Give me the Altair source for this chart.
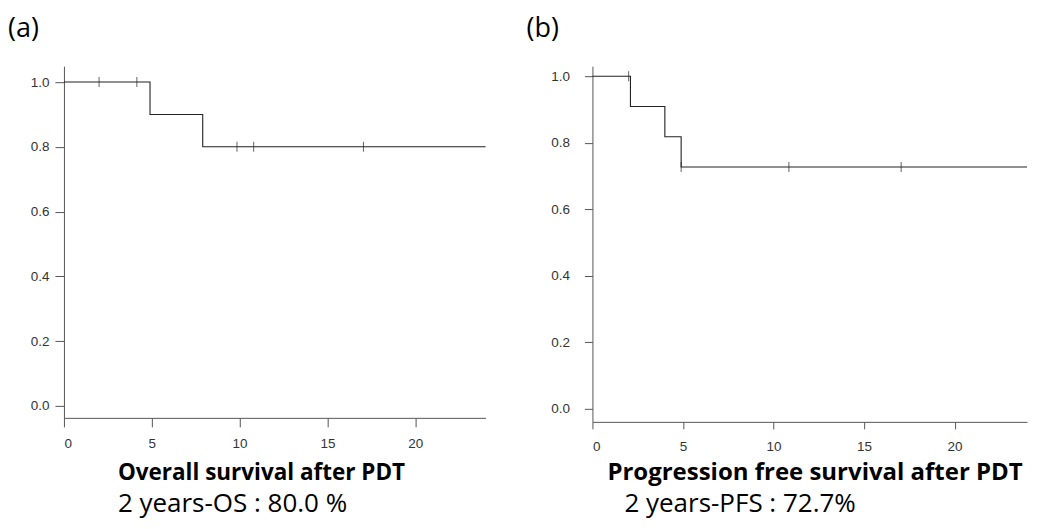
import altair as alt
import pandas as pd

# Kaplan-Meier curve (a): overall survival
os_time = [0, 4.9, 7.9, 24]
os_surv = [1.0, 0.9, 0.8, 0.8]
os_cens_time = [2.0, 4.15, 9.85, 10.8, 17.05]
os_cens_surv = [1.0, 1.0, 0.8, 0.8, 0.8]

# Kaplan-Meier curve (b): progression free survival
pfs_time = [0, 2.1, 4.0, 4.9, 24]
pfs_surv = [1.0, 0.909, 0.818, 0.727, 0.727]
pfs_cens_time = [2.0, 4.9, 10.85, 17.05]
pfs_cens_surv = [1.0, 0.727, 0.727, 0.727]

x_ticks = [0, 5, 10, 15, 20]
y_ticks = [0.0, 0.2, 0.4, 0.6, 0.8, 1.0]

panel_labels = ["(a)", "(b)"]
titles = ["Overall survival after PDT", "Progression free survival after PDT"]
subtitles = ["2 years-OS : 80.0 %", "2 years-PFS : 72.7%"]

LINE = "#222222"
TXT_FONT = "Open Sans"


def text_layer(txt, x, y, size, weight="normal"):
    return alt.Chart(pd.DataFrame({"txt": [txt]})).mark_text(
        align="left", baseline="alphabetic", font=TXT_FONT, fontSize=size,
        fontWeight=weight, color="#000000"
    ).encode(text="txt:N", x=alt.value(x), y=alt.value(y))


def panel(time, surv, ct, cs, idx, w, h, ydom, ytick, ypad, xtick, xpad,
          lab_x, lab_y, title_x, title_y, title_size, sub_x, sub_y, sub_size):
    xs = alt.Scale(domain=[0, 24], nice=False, zero=False)
    ys = alt.Scale(domain=ydom, nice=False, zero=False)
    xaxis = alt.Axis(values=x_ticks, title=None, grid=False, tickSize=xtick,
                     labelPadding=xpad, format="d")
    yaxis = alt.Axis(values=y_ticks, title=None, grid=False, tickSize=ytick,
                     labelPadding=ypad, format=".1f")
    curve = alt.Chart(pd.DataFrame({"t": time, "s": surv})).mark_line(
        interpolate="step-after", color=LINE, strokeWidth=1.1
    ).encode(
        x=alt.X("t:Q", scale=xs, axis=xaxis),
        y=alt.Y("s:Q", scale=ys, axis=yaxis),
    )
    cens = alt.Chart(pd.DataFrame({"t": ct, "s": cs})).mark_tick(
        orient="vertical", size=10, thickness=1, color=LINE
    ).encode(
        x=alt.X("t:Q", scale=xs, axis=xaxis),
        y=alt.Y("s:Q", scale=ys, axis=yaxis),
    )
    lab = text_layer(panel_labels[idx], lab_x, lab_y, 27)
    ttl = text_layer(titles[idx], title_x, title_y, title_size, "bold")
    sub = text_layer(subtitles[idx], sub_x, sub_y, sub_size)
    return alt.layer(curve, cens, lab, ttl, sub).properties(width=w, height=h)


pa = panel(os_time, os_surv, os_cens_time, os_cens_surv, 0, 422, 352,
           [-0.037, 1.049], 9, 6, 9, 10,
           -56, -29, 54, 414, 22.5, 54, 446, 26)
pb = panel(pfs_time, pfs_surv, pfs_cens_time, pfs_cens_surv, 1, 435, 356,
           [-0.039, 1.030], 8, 15, 7, 11,
           -66, -29, 15, 414, 24, 32, 446, 26)

chart = alt.hconcat(pa, pb, spacing=38).properties(
    padding={"left": 0, "top": 7, "right": 0, "bottom": 3}
).configure_view(stroke=None).configure_axis(
    domainColor="#555555", tickColor="#555555", labelColor="#333333",
    labelFont="Liberation Sans", labelFontSize=13.5, domainWidth=1, tickWidth=1
)

chart.save("out.html", embed_options={"renderer": "svg", "actions": False})
